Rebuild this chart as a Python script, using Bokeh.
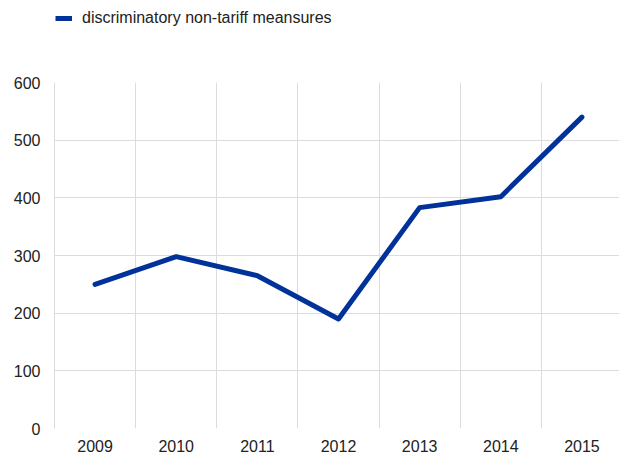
from bokeh.plotting import figure
from bokeh.layouts import column
from bokeh.models import FactorRange, Range1d, FixedTicker, Legend, LegendItem
from bokeh.embed import file_html
from bokeh.resources import INLINE

years = ["2009", "2010", "2011", "2012", "2013", "2014", "2015"]
measures = [250, 298, 265, 190, 383, 402, 540]
y_ticks = [0, 100, 200, 300, 400, 500, 600]
series_name = "discriminatory non-tariff meansures"

BLUE = "#003299"
GRID = "#dcdcdc"
FONT = "Liberation Sans"
TXT = "#222222"

# ---- legend strip on top (its own line lies outside its visible range) ----
lg = figure(width=622, height=72, output_backend="svg", toolbar_location=None,
            x_range=FactorRange(*years), y_range=Range1d(-2000, -1000),
            x_axis_type=None, y_axis_type=None,
            min_border_left=54, min_border_right=0, min_border_top=0, min_border_bottom=0)
lg.outline_line_color = None
lg.grid.visible = False
lr = lg.line(years, measures, line_color=BLUE, line_width=5)
legend = Legend(items=[LegendItem(label=series_name, renderers=[lr])],
                location=(1, 44), orientation="horizontal")
legend.border_line_color = None
legend.background_fill_alpha = 0
legend.padding = 0
legend.margin = 0
legend.glyph_width = 17
legend.glyph_height = 20
legend.label_standoff = 10
legend.label_text_font = FONT
legend.label_text_font_size = "16px"
legend.label_text_color = TXT
lg.add_layout(legend, "center")

# ---- main chart ----
p = figure(
    x_range=FactorRange(*years), y_range=Range1d(0, 600),
    width=622, height=388, output_backend="svg", toolbar_location=None,
    min_border_left=54, min_border_right=0, min_border_top=10, min_border_bottom=32,
)
p.outline_line_color = None
p.background_fill_color = "white"
p.border_fill_color = "white"

p.line(years, measures, line_color=BLUE, line_width=5,
       line_cap="round", line_join="round")

p.xgrid.ticker = FixedTicker(ticks=list(range(len(years) + 1)))
p.xgrid.grid_line_color = GRID
p.ygrid.ticker = FixedTicker(ticks=y_ticks)
p.ygrid.grid_line_color = GRID

for ax in (p.xaxis[0], p.yaxis[0]):
    ax.axis_line_color = None
    ax.major_tick_line_color = None
    ax.minor_tick_line_color = None
    ax.major_label_text_font = FONT
    ax.major_label_text_font_size = "16px"
    ax.major_label_text_color = TXT
p.yaxis.axis_line_color = GRID
p.yaxis.ticker = FixedTicker(ticks=y_ticks)
p.yaxis.major_label_standoff = 8
p.xaxis.major_label_standoff = 5

layout = column(lg, p, spacing=0)

html = file_html(layout, INLINE)
html = html.replace("<head>", "<head><style>html,body{overflow:hidden}</style>", 1)
open("out.html", "w").write(html)
